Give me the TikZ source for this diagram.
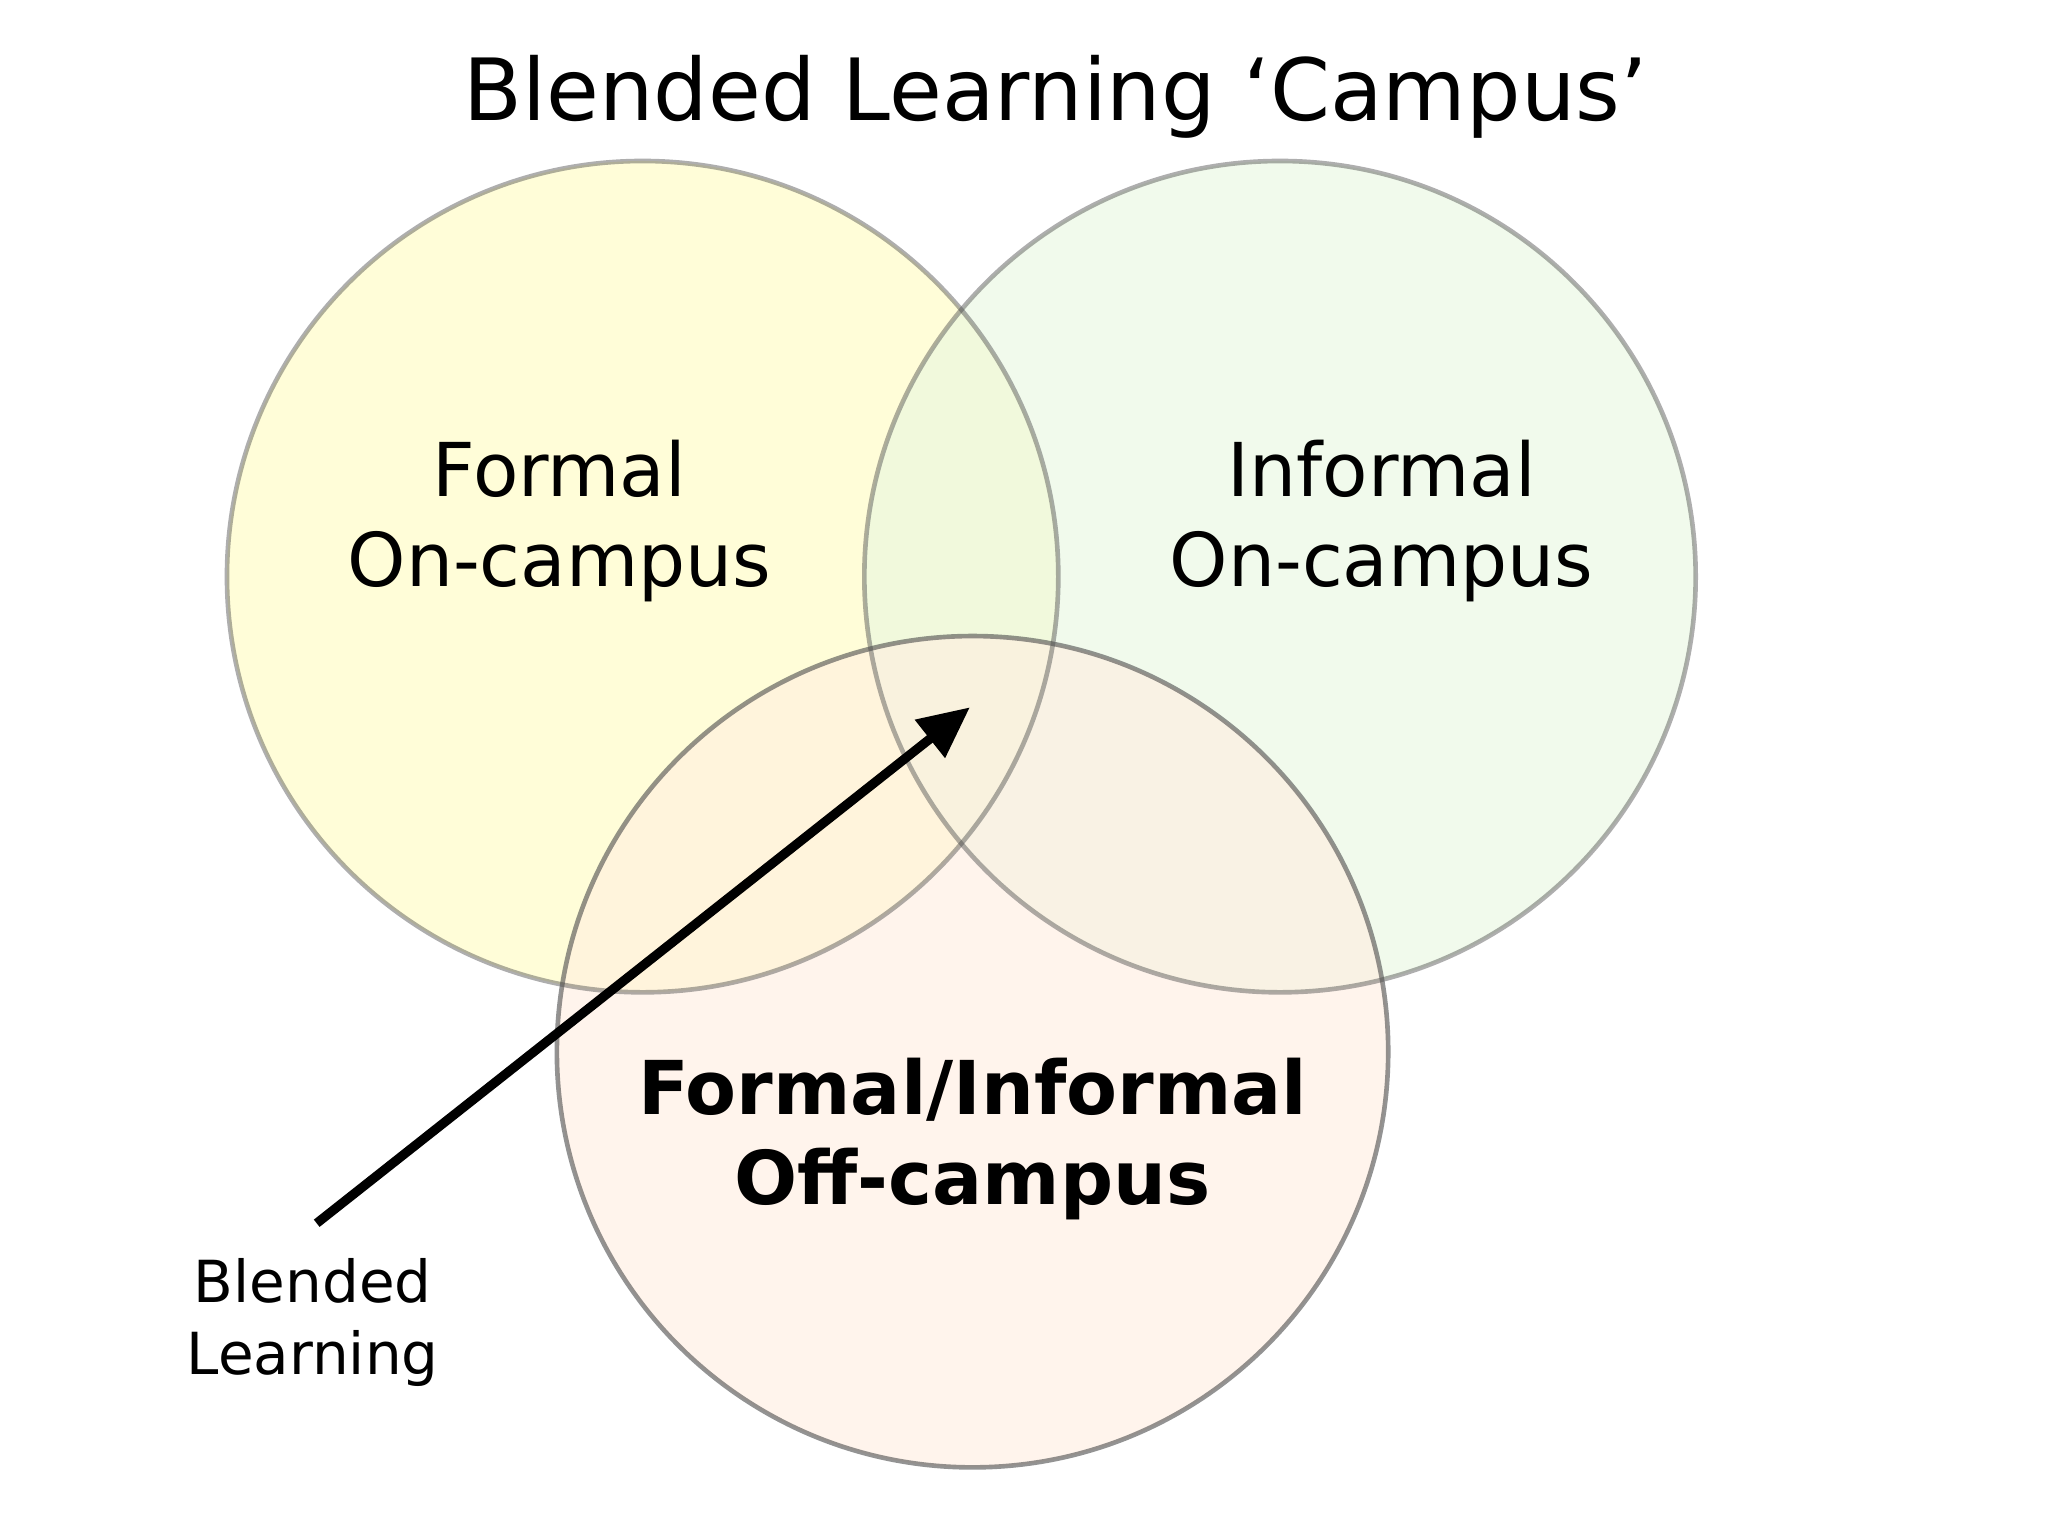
\documentclass[tikz,border=0pt]{standalone}
\usepackage{fontspec}
\setmainfont{DejaVu Sans}
\usetikzlibrary{arrows.meta}
\begin{document}
\begin{tikzpicture}[x=0.01cm,y=-0.01cm,
  venn/.style={draw=black!70,draw opacity=0.45,line width=1pt},
  lbl/.style={align=center,font=\fontsize{16pt}{19.5pt}\selectfont}]
\useasboundingbox (0,0) rectangle (1552,1164);
\fill[white] (0,0) rectangle (1552,1164);
\fill[yellow!25!white,opacity=0.6] (487,437) circle (315);
\fill[green!50!olive!12!white,opacity=0.6] (970,437) circle (315);
\fill[red!12!orange!12!white,opacity=0.6] (737,797) circle (315);
\draw[venn] (487,437) circle (315);
\draw[venn] (970,437) circle (315);
\draw[venn,draw opacity=0.6] (737,797) circle (315);
\node (t) at (800,73) {\fontsize{18.5pt}{22pt}\selectfont Blended Learning ‘Campus’};
\node[lbl] (f) at (424,395) {Formal\\On-campus};
\node[lbl] (i) at (1047,395) {Informal\\On-campus};
\node[lbl,font=\fontsize{16pt}{19.5pt}\selectfont\bfseries] (o) at (737,863) {Formal/Informal\\Off-campus};
\node[align=center,font=\fontsize{12.5pt}{15.5pt}\selectfont] (b) at (237,1002) {Blended\\Learning};
\coordinate (tip) at (735,536);
\coordinate (start) at (240,927);
\draw[line width=2pt,-{Triangle[length=11pt,width=10pt]}] (start) -- (tip);
\end{tikzpicture}
\end{document}
